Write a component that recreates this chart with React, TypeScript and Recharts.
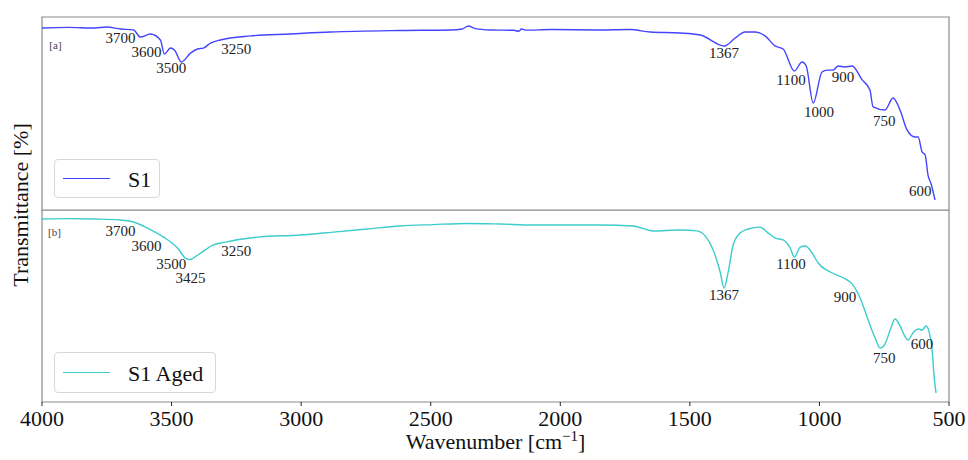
import React from 'react';
import { LineChart, Line, XAxis, YAxis, ReferenceArea, ReferenceDot } from 'recharts';

const xTicks = [4000, 3500, 3000, 2500, 2000, 1500, 1000, 500];

const s1Wavenumber = [4000, 3900, 3797, 3750, 3697, 3647, 3620, 3582, 3543, 3528, 3504, 3489, 3462, 3427, 3400, 3377, 3350, 3312, 3196, 3042, 2887, 2617, 2424, 2378, 2355, 2328, 2270, 2180, 2160, 2150, 2130, 2039, 1846, 1730, 1653, 1537, 1460, 1367, 1325, 1287, 1248, 1210, 1171, 1140, 1097, 1067, 1051, 1024, 990, 970, 947, 928, 901, 874, 835, 805, 793, 747, 716, 689, 662, 631, 619, 604, 592, 581, 569, 554];
const s1Transmittance = [94.3, 94.6, 94.3, 94.8, 93.8, 93.3, 89.6, 91.2, 88.1, 80.8, 83.9, 82.9, 76.7, 81.3, 83.4, 83.9, 86.5, 88.1, 90.2, 91.2, 92.2, 93.0, 93.3, 93.8, 95.3, 94.0, 93.3, 93.1, 92.6, 93.8, 93.2, 93.5, 93.3, 93.5, 92.2, 91.7, 90.7, 85.0, 89.1, 92.2, 92.2, 90.2, 85.0, 83.4, 72.0, 76.7, 74.6, 55.4, 71.5, 72.5, 72.5, 74.6, 74.1, 74.6, 67.4, 62.2, 53.4, 51.8, 58.0, 51.8, 41.5, 37.8, 37.8, 30.1, 28.5, 18.1, 13.5, 5.2];

const agedWavenumber = [4000, 3900, 3797, 3697, 3647, 3593, 3531, 3477, 3445, 3427, 3416, 3377, 3339, 3292, 3169, 3003, 2876, 2745, 2618, 2491, 2359, 2232, 2104, 1973, 1846, 1719, 1642, 1538, 1472, 1441, 1410, 1383, 1368, 1352, 1333, 1306, 1275, 1229, 1202, 1171, 1140, 1113, 1097, 1074, 1055, 1028, 1005, 958, 900, 874, 843, 812, 785, 766, 747, 727, 708, 689, 669, 658, 639, 619, 604, 588, 577, 565, 558, 550];
const agedTransmittance = [95.3, 95.5, 95.3, 94.8, 93.75, 90.6, 85.9, 80.2, 74.8, 74.2, 75.0, 78.6, 81.8, 83.3, 85.9, 87.0, 88.5, 90.1, 91.7, 92.4, 93.0, 92.7, 92.2, 92.2, 92.2, 91.7, 89.1, 89.6, 89.1, 86.5, 79.2, 67.7, 59.4, 67.7, 81.8, 88.0, 90.1, 91.1, 88.5, 85.4, 84.4, 80.2, 75.5, 80.7, 81.25, 77.6, 72.4, 67.7, 64.1, 61.5, 54.2, 42.7, 33.3, 28.1, 30.2, 37.5, 43.2, 39.6, 33.9, 32.3, 35.9, 38.0, 37.5, 39.6, 36.5, 27.1, 14.1, 4.7];

const s1LabelText = ['3700', '3600', '3500', '3250', '1367', '1100', '1000', '900', '750', '600'];
const s1LabelX = [3697, 3597, 3501, 3250, 1368, 1110, 1002, 909, 750, 611];
const s1LabelY = [89.1, 81.9, 73.6, 83.4, 81.3, 67.4, 50.8, 68.9, 46.1, 9.8];

const agedLabelText = ['3700', '3600', '3500', '3425', '3250', '1367', '1100', '900', '750', '600'];
const agedLabelX = [3697, 3597, 3501, 3427, 3250, 1368, 1110, 901, 750, 604];
const agedLabelY = [89.1, 81.25, 71.9, 64.6, 78.6, 55.7, 71.9, 54.7, 22.9, 30.2];

const s1Data = s1Wavenumber.map((wn, i) => ({ wn, t: s1Transmittance[i] }));
const agedData = agedWavenumber.map((wn, i) => ({ wn, t: agedTransmittance[i] }));

const FONT = '"Liberation Serif", "DejaVu Serif", serif';
const S1_COLOR = '#4444ff';
const AGED_COLOR = '#3ccccc';
const FRAME = '#8a8a8a';

const annotations = (texts: string[], xs: number[], ys: number[]) =>
  texts.map((t, i) => (
    <ReferenceDot
      key={t + i}
      x={xs[i]}
      y={ys[i]}
      r={0}
      fill="none"
      stroke="none"
      label={{ value: t, position: 'center', fill: '#222', fontSize: 15, fontFamily: FONT }}
    />
  ));

const XLabel = (props: any) => {
  const vb = props.viewBox || {};
  const cx = vb.x + vb.width / 2;
  const y = vb.y + 47;
  return (
    <text x={cx} y={y} textAnchor="middle" fontFamily={FONT} fontSize={22} fill="#111">
      <tspan>Wavenumber [cm</tspan>
      <tspan dy={-8} fontSize={15}>−1</tspan>
      <tspan dy={8}>]</tspan>
    </text>
  );
};

const legendBox = (left: number, top: number, width: number, height: number, color: string, text: string) => (
  <div
    style={{
      position: 'absolute',
      left,
      top,
      width,
      height,
      border: '1px solid #d8d8d8',
      borderRadius: 4,
      background: 'rgba(255,255,255,0.9)',
      boxSizing: 'border-box',
      fontFamily: FONT,
      fontSize: 22,
      color: '#111',
    }}
  >
    <div style={{ position: 'absolute', left: 8, top: height / 2 - 2, width: 47, height: 0, borderTop: `1.5px solid ${color}` }} />
    <div style={{ position: 'absolute', left: 73, top: 0, height, lineHeight: height + 'px', whiteSpace: 'nowrap' }}>{text}</div>
  </div>
);

export default function App() {
  return (
    <div style={{ position: 'absolute', left: 0, top: 0, width: 968, height: 460, background: '#fff', fontFamily: FONT }}>
      <div style={{ position: 'absolute', left: 0, top: 0 }}>
        <LineChart width={968} height={211} data={s1Data} margin={{ top: 17, right: 19, bottom: 1, left: 42 }}>
          <XAxis dataKey="wn" type="number" domain={[500, 4000]} reversed hide allowDataOverflow />
          <YAxis type="number" domain={[0, 100]} hide allowDataOverflow />
          <ReferenceArea x1={4000} x2={500} y1={0} y2={100} fill="none" stroke={FRAME} strokeWidth={1.2} ifOverflow="visible" />
          <Line dataKey="t" type="monotone" stroke={S1_COLOR} strokeWidth={1.4} dot={false} isAnimationActive={false} />
          <ReferenceDot x={3948} y={85.5} r={0} fill="none" stroke="none" label={{ value: '[a]', position: 'center', fill: '#444', fontSize: 11, fontFamily: FONT }} />
          {annotations(s1LabelText, s1LabelX, s1LabelY)}
        </LineChart>
      </div>
      <div style={{ position: 'absolute', left: 0, top: 210 }}>
        <LineChart width={968} height={250} data={agedData} margin={{ top: 0, right: 19, bottom: 0, left: 42 }}>
          <XAxis
            dataKey="wn"
            type="number"
            domain={[500, 4000]}
            reversed
            ticks={xTicks}
            height={58}
            axisLine={false}
            tickLine={{ stroke: '#222' }}
            tickSize={4}
            tickMargin={4}
            tick={{ fontSize: 22, fill: '#111', fontFamily: FONT }}
            interval={0}
            allowDataOverflow
            label={<XLabel />}
          />
          <YAxis type="number" domain={[0, 100]} hide allowDataOverflow />
          <ReferenceArea x1={4000} x2={500} y1={0} y2={100} fill="none" stroke={FRAME} strokeWidth={1.2} ifOverflow="visible" />
          <Line dataKey="t" type="monotone" stroke={AGED_COLOR} strokeWidth={1.4} dot={false} isAnimationActive={false} />
          <ReferenceDot x={3952} y={88.5} r={0} fill="none" stroke="none" label={{ value: '[b]', position: 'center', fill: '#444', fontSize: 11, fontFamily: FONT }} />
          {annotations(agedLabelText, agedLabelX, agedLabelY)}
        </LineChart>
      </div>
      {legendBox(54, 159, 106, 39, S1_COLOR, 'S1')}
      {legendBox(54, 352, 162, 41, AGED_COLOR, 'S1 Aged')}
      <div
        style={{
          position: 'absolute',
          left: 21,
          top: 205,
          transform: 'translate(-50%, -50%) rotate(-90deg)',
          whiteSpace: 'nowrap',
          fontFamily: FONT,
          fontSize: 22,
          color: '#111',
        }}
      >
        Transmittance [%]
      </div>
    </div>
  );
}
